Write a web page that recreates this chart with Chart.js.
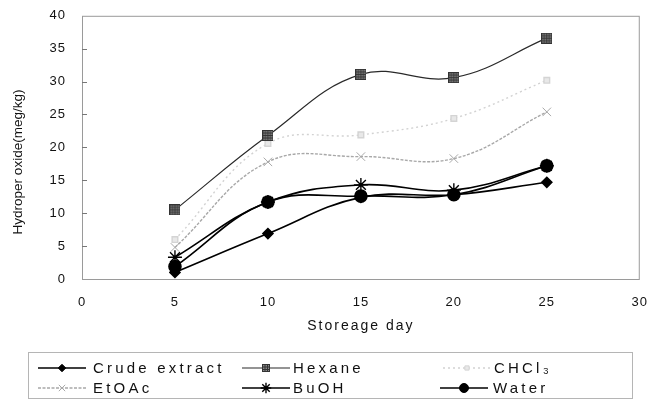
<!DOCTYPE html>
<html>
<head>
<meta charset="utf-8">
<script src="https://cdn.jsdelivr.net/npm/chart.js@4.4.0/dist/chart.umd.min.js"></script>
<style>
  html, body { margin: 0; padding: 0; background: #fff; }
  #wrap { width: 655px; height: 403px; position: relative; }
</style>
</head>
<body>
<div id="wrap"><canvas id="chart"></canvas></div>
<script>
// Données
const days = [5, 10, 15, 20, 25];
const crude = [1.0, 6.9, 12.4, 12.8, 14.7];
const hexane = [10.5, 21.8, 31.1, 30.6, 36.6];
const chcl3 = [6.0, 20.6, 21.9, 24.4, 30.2];
const etoac = [4.8, 17.8, 18.6, 18.3, 25.4];
const buoh = [3.3, 11.7, 14.3, 13.5, 17.2];
const water = [1.9, 11.7, 12.6, 12.8, 17.2];
const seriesNames = ['Crude extract', 'Hexane', 'CHCl\u2083', 'EtOAc', 'BuOH', 'Water'];
const xTitle = 'Storeage day';
const yTitle = 'Hydroper oxide(meg/kg)';

const FONT = '"Liberation Sans", Arial, sans-serif';

// Marqueur quadrillé pour Hexane
function makeHexMarker(size) {
    const c = document.createElement('canvas');
    c.width = size; c.height = size;
    const g = c.getContext('2d');
    g.fillStyle = '#8a8a8a';
    g.fillRect(0, 0, size, size);
    g.strokeStyle = '#333';
    g.lineWidth = 1;
    for (let i = 0.5; i < size; i += 2.5) {
        g.beginPath(); g.moveTo(i, 0); g.lineTo(i, size); g.stroke();
        g.beginPath(); g.moveTo(0, i); g.lineTo(size, i); g.stroke();
    }
    g.strokeRect(0.5, 0.5, size - 1, size - 1);
    return c;
}
const hexMarker = makeHexMarker(11);
const hexMarkerSmall = makeHexMarker(8);

function toPoints(values) {
    return days.map((d, i) => ({ x: d, y: values[i] }));
}

const datasets = [
    { label: seriesNames[0], data: toPoints(crude), borderColor: '#000', backgroundColor: '#000',
      borderWidth: 1.6, pointStyle: 'rectRot', pointRadius: 5 },
    { label: seriesNames[1], data: toPoints(hexane), borderColor: '#2a2a2a', backgroundColor: '#888',
      borderWidth: 1.2, pointStyle: hexMarker, pointRadius: 6 },
    { label: seriesNames[2], data: toPoints(chcl3), borderColor: '#d2d2d2', backgroundColor: '#e8e8e8',
      borderWidth: 1.4, borderDash: [2, 3], pointStyle: 'rect', pointRadius: 4, pointBorderColor: '#d4d4d4' },
    { label: seriesNames[3], data: toPoints(etoac), borderColor: '#a8a8a8', backgroundColor: '#a8a8a8',
      borderWidth: 1.4, borderDash: [3, 1.5], pointStyle: 'crossRot', pointRadius: 6, pointBorderWidth: 1 },
    { label: seriesNames[4], data: toPoints(buoh), borderColor: '#000', backgroundColor: '#000',
      borderWidth: 1.6, pointStyle: 'star', pointRadius: 7, pointBorderWidth: 1.4 },
    { label: seriesNames[5], data: toPoints(water), borderColor: '#000', backgroundColor: '#000',
      borderWidth: 1.6, pointStyle: 'circle', pointRadius: 6 }
];
datasets.forEach(ds => { ds.tension = 0.4; ds.fill = false; ds.pointBorderColor = ds.pointBorderColor || ds.borderColor; });

// Cadre, titres d'axes et légende dessinés à la main
const decorPlugin = {
    id: 'decor',
    beforeDraw(chart) {
        chart.ctx.letterSpacing = '1px';
    },
    beforeDatasetsDraw(chart) {
        const ctx = chart.ctx;
        const a = chart.chartArea;
        const ys = chart.scales.y;
        ctx.save();
        ctx.strokeStyle = '#9a9a9a';
        ctx.lineWidth = 1;
        ctx.strokeRect(a.left + 0.5, a.top + 0.5, a.right - a.left - 1, a.bottom - a.top);
        ctx.strokeStyle = '#777';
        for (let v = 5; v < 40; v += 5) {
            const y = Math.round(ys.getPixelForValue(v)) + 0.5;
            ctx.beginPath(); ctx.moveTo(a.left, y); ctx.lineTo(a.left + 5, y); ctx.stroke();
        }
        ctx.restore();
    },
    afterDraw(chart) {
        const ctx = chart.ctx;
        const a = chart.chartArea;
        ctx.save();
        ctx.fillStyle = '#111';
        ctx.letterSpacing = '2px';
        ctx.font = '14px ' + FONT;
        ctx.textAlign = 'center';
        ctx.textBaseline = 'middle';
        ctx.fillText(xTitle, (a.left + a.right) / 2, 326);

        ctx.letterSpacing = '0px';
        ctx.font = '13.5px ' + FONT;
        ctx.translate(18, 162);
        ctx.rotate(-Math.PI / 2);
        ctx.fillText(yTitle, 0, 0);
        ctx.restore();

        // Légende
        ctx.save();
        ctx.strokeStyle = '#b5b5b5';
        ctx.lineWidth = 1;
        ctx.strokeRect(28.5, 352.5, 604, 46);
        const slots = [
            [38, 368, 93], [242, 368, 293], [443, 368, 494],
            [38, 388, 93], [242, 388, 293], [440, 388, 493]
        ];
        chart.data.datasets.forEach((ds, i) => {
            const [sx, sy, tx] = slots[i];
            ctx.save();
            ctx.strokeStyle = ds.borderColor;
            ctx.lineWidth = ds.borderWidth;
            ctx.setLineDash(ds.borderDash || []);
            ctx.beginPath(); ctx.moveTo(sx, sy); ctx.lineTo(sx + 48, sy); ctx.stroke();
            ctx.setLineDash([]);
            ctx.fillStyle = ds.backgroundColor;
            ctx.strokeStyle = ds.pointBorderColor;
            ctx.lineWidth = ds.pointBorderWidth || 1;
            Chart.helpers.drawPoint(ctx, {
                pointStyle: ds.pointStyle === hexMarker ? hexMarkerSmall : ds.pointStyle,
                radius: ds.pointRadius * 0.75,
                borderWidth: ds.pointBorderWidth || 1,
                rotation: 0
            }, sx + 24, sy);
            ctx.restore();
            ctx.fillStyle = '#111';
            ctx.letterSpacing = '3.2px';
            ctx.font = '15px ' + FONT;
            ctx.textAlign = 'left';
            ctx.textBaseline = 'middle';
            ctx.fillText(ds.label, tx, sy + 1);
        });
        ctx.restore();
    }
};

new Chart(document.getElementById('chart'), {
    type: 'line',
    data: { datasets: datasets },
    options: {
        responsive: true,
        maintainAspectRatio: false,
        animation: false,
        layout: { padding: { left: 0, right: 6, top: 8, bottom: 0 } },
        plugins: {
            legend: { display: false },
            tooltip: { enabled: false }
        },
        scales: {
            x: {
                type: 'linear',
                min: 0, max: 30,
                grid: { display: false },
                border: { display: false },
                ticks: { stepSize: 5, color: '#111', padding: 8, font: { family: FONT, size: 13 } },
                afterFit(scale) { scale.height = 124; }
            },
            y: {
                min: 0, max: 40,
                grid: { display: false },
                border: { display: false },
                ticks: { stepSize: 5, color: '#111', padding: 8, font: { family: FONT, size: 13 } },
                afterFit(scale) { scale.width = 82; }
            }
        }
    },
    plugins: [decorPlugin]
});
</script>
</body>
</html>
